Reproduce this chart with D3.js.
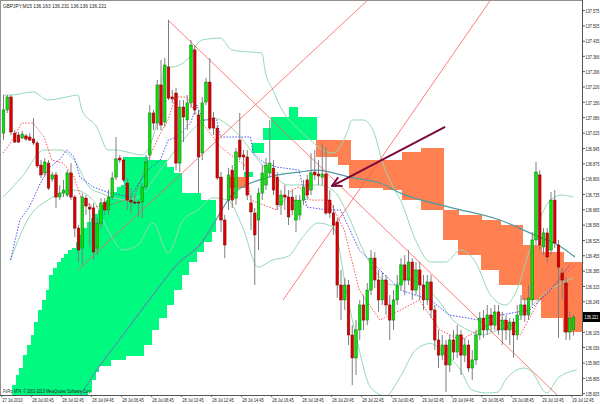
<!DOCTYPE html>
<html><head><meta charset="utf-8">
<script src="https://cdn.jsdelivr.net/npm/d3@7"></script>
<style>html,body{margin:0;padding:0;background:#fff;}svg{display:block;}</style>
</head><body>
<svg id="c" width="600" height="404"></svg>
<script>
const title = "GBPJPY,M15 136.163 136.231 136.136 136.221";
const copyright = "FxPro MT4, \u00A9 2001-2010 MetaQuotes Software Corp.";
const currentPrice = 136.221;
const timeLabels = ["27 Jul 2010","28 Jul 00:45","28 Jul 02:45","28 Jul 04:45","28 Jul 06:45","28 Jul 08:45","28 Jul 10:45","28 Jul 12:45","28 Jul 14:45","28 Jul 16:45","28 Jul 18:45","28 Jul 20:45","28 Jul 22:45","29 Jul 00:45","29 Jul 02:45","29 Jul 04:45","29 Jul 06:45","29 Jul 08:45","29 Jul 10:45","29 Jul 12:45"];
const priceLabels = ["137.575","137.505","137.435","137.366","137.296","137.226","137.156","137.086","137.015","136.945","136.875","136.806","136.735","136.665","136.595","136.525","136.455","136.385","136.315","136.245","136.175","136.105","136.036","135.965","135.895","135.825"];

const opens = [137.061,137.167,137.226,137.061,137.052,137.039,137.048,137.043,137.034,137.016,
136.915,136.879,136.924,136.851,136.870,136.769,136.787,136.778,136.879,136.769,
136.627,136.536,136.764,136.723,136.719,136.536,136.650,136.746,136.710,136.769,
136.860,136.947,136.938,136.833,136.755,136.746,136.746,136.746,136.815,136.961,
137.153,137.107,137.281,137.112,137.363,137.226,137.244,136.924,137.180,137.121,
137.199,137.441,137.144,136.970,137.203,137.294,137.130,137.084,136.860,136.664,
136.755,136.892,136.764,137.029,136.961,136.952,136.742,136.696,136.664,136.787,
136.824,136.879,136.901,136.860,136.733,136.778,136.769,136.769,136.664,136.687,
136.755,136.847,136.801,136.883,136.874,136.860,136.874,136.755,136.696,136.655,
136.367,136.299,136.367,136.139,136.034,136.162,136.276,136.207,136.344,136.490,
136.390,136.299,136.390,136.276,136.207,136.299,136.367,136.459,136.390,136.472,
136.344,136.436,136.367,136.299,136.381,136.253,136.116,136.047,136.093,136.002,
136.116,136.061,136.139,136.047,136.093,135.988,136.025,136.139,136.216,136.162,
136.230,136.184,136.244,136.162,136.207,136.162,136.198,136.139,136.230,136.276,
136.230,136.299,136.573,136.870,136.541,136.605,136.527,136.755,136.550,136.422,
136.376,136.152,136.163];
const highs = [137.235,137.235,137.235,137.075,137.066,137.071,137.057,137.061,137.130,137.025,
136.938,136.947,136.938,136.883,136.883,136.824,136.847,136.892,136.924,136.778,
136.641,136.787,136.778,136.742,136.742,136.673,136.764,136.764,136.801,136.883,
137.043,136.961,136.952,136.856,136.810,136.778,136.755,136.833,136.961,137.189,
137.167,137.304,137.395,137.404,137.578,137.258,137.267,137.212,137.212,137.235,
137.486,137.463,137.167,137.226,137.313,137.404,137.157,137.098,136.883,136.687,
136.901,136.915,136.993,137.153,136.984,136.984,136.778,136.719,136.810,136.915,
136.947,137.121,136.938,136.883,136.801,136.824,136.801,136.801,136.778,136.778,
136.847,136.870,136.970,136.984,136.938,137.016,136.998,136.801,136.733,136.673,
136.436,136.399,136.390,136.184,136.207,136.299,136.321,136.376,136.527,136.518,
136.436,136.426,136.413,136.321,136.344,136.413,136.490,136.504,136.527,136.490,
136.472,136.472,136.413,136.413,136.413,136.276,136.162,136.139,136.116,136.139,
136.162,136.184,136.162,136.125,136.116,136.070,136.162,136.244,136.253,136.276,
136.262,136.276,136.276,136.244,136.230,136.216,136.216,136.276,136.321,136.308,
136.367,136.609,136.929,136.892,136.627,136.627,136.792,136.801,136.573,136.445,
136.404,136.244,136.231];
const lows = [137.029,137.153,137.052,137.016,137.016,137.034,137.025,137.025,137.007,136.902,
136.856,136.865,136.801,136.838,136.719,136.755,136.769,136.769,136.755,136.586,
136.472,136.459,136.687,136.541,136.481,136.504,136.627,136.687,136.687,136.755,
136.847,136.924,136.838,136.710,136.696,136.733,136.678,136.673,136.801,136.938,
137.075,137.075,137.075,137.089,137.212,137.199,136.892,136.883,137.020,137.075,
137.176,137.144,136.787,136.938,137.189,137.075,137.052,136.847,136.609,136.490,
136.710,136.719,136.733,136.938,136.892,136.755,136.618,136.367,136.527,136.755,
136.801,136.856,136.778,136.710,136.687,136.710,136.641,136.687,136.609,136.664,
136.733,136.755,136.778,136.847,136.824,136.824,136.687,136.673,136.596,136.308,
136.207,136.253,136.093,135.910,135.956,136.116,136.162,136.184,136.321,136.353,
136.244,136.276,136.230,136.116,136.162,136.276,136.344,136.321,136.367,136.299,
136.321,136.299,136.253,136.276,136.216,136.070,135.988,136.025,135.878,135.970,
136.025,136.034,135.956,136.015,135.970,135.933,136.002,136.116,136.125,136.139,
136.152,136.162,136.139,136.093,136.116,136.093,136.034,136.116,136.207,136.198,
136.207,136.276,136.550,136.527,136.504,136.472,136.504,136.536,136.125,136.299,
136.116,136.116,136.136];
const closes = [137.167,137.226,137.066,137.020,137.020,137.057,137.034,137.029,137.016,136.911,
136.870,136.929,136.810,136.870,136.769,136.787,136.801,136.879,136.769,136.627,
136.527,136.769,136.728,136.714,136.518,136.650,136.742,136.710,136.769,136.856,
136.943,136.938,136.847,136.755,136.746,136.744,136.742,136.815,136.929,137.153,
137.107,137.281,137.098,137.372,137.221,137.217,136.924,137.180,137.135,137.199,
137.463,137.167,136.952,137.199,137.294,137.084,137.084,136.856,136.664,136.550,
136.870,136.755,136.975,136.952,136.952,136.778,136.701,136.596,136.787,136.879,
136.915,136.924,136.801,136.733,136.778,136.769,136.678,136.710,136.755,136.755,
136.815,136.778,136.879,136.870,136.865,136.874,136.696,136.696,136.641,136.367,
136.299,136.367,136.139,136.034,136.162,136.276,136.207,136.344,136.490,136.390,
136.299,136.390,136.276,136.207,136.299,136.367,136.459,136.390,136.472,136.344,
136.436,136.367,136.299,136.381,136.253,136.116,136.047,136.093,136.002,136.116,
136.061,136.139,136.047,136.093,135.988,136.025,136.139,136.216,136.162,136.230,
136.184,136.244,136.162,136.207,136.162,136.198,136.139,136.230,136.276,136.230,
136.308,136.573,136.883,136.550,136.605,136.495,136.755,136.559,136.449,136.390,
136.152,136.216,136.221];

// Ichimoku cloud runs: [fromBar, toBar, senkouA, senkouB]
const cloudRuns = [
[3,3,135.910,135.796],[4,4,135.956,135.796],[5,5,135.988,135.796],[6,6,136.047,135.796],
[7,7,136.093,135.796],[8,8,136.139,135.796],[9,9,136.198,135.796],[10,10,136.253,135.796],
[11,11,136.299,135.796],[12,12,136.344,135.796],[13,13,136.413,135.796],[14,14,136.445,135.796],
[15,15,136.472,135.796],[16,16,136.490,135.796],[17,17,136.509,135.796],[18,18,136.527,135.796],
[19,19,136.536,135.796],[20,20,136.564,135.796],[21,21,136.596,135.796],[22,22,136.627,135.796],
[23,23,136.655,135.878],[24,24,136.673,135.933],[25,25,136.691,135.970],[26,26,136.710,135.997],
[27,27,136.733,135.997],[28,28,136.755,135.997],[29,29,136.769,136.025],[30,30,136.792,136.025],
[31,31,136.815,136.025],[32,32,136.824,136.025],[33,37,136.952,136.043],[38,38,136.952,136.093],
[39,39,136.938,136.093],[40,41,136.938,136.162],[42,43,136.938,136.216],[44,45,136.906,136.276],
[46,47,136.879,136.344],[48,49,136.787,136.413],[50,51,136.787,136.472],[52,52,136.787,136.518],
[53,53,136.755,136.518],[54,55,136.755,136.564],[56,56,136.755,136.609],
[61,64,136.810,136.860],
[65,66,136.883,136.860],[67,69,137.016,136.970],[70,71,137.084,137.029],[72,76,137.135,137.029],
[77,78,137.180,137.029],[79,83,137.135,137.029],
[84,89,136.952,137.029],[90,92,136.915,137.029],[93,101,136.810,136.938],[102,106,136.801,136.938],
[107,111,136.755,136.975],[112,117,136.710,136.993],[118,121,136.573,136.710],[122,127,136.504,136.687],
[128,132,136.436,136.664],[133,138,136.367,136.641],[139,143,136.299,136.550],[144,149,136.216,136.518],
[150,154,136.152,136.472]];

// indicator lines: [bar, price]
const bbUpper = [[0,137.235],[2,137.235],[8,137.249],[12,137.212],[17,137.226],[20,137.235],[21,137.167],[25,137.089],[28,136.984],[30,136.984],[33,136.975],[37,136.961],[40,137.043],[42,137.226],[43,137.363],[45,137.363],[49,137.395],[53,137.486],[58,137.495],[61,137.441],[66,137.431],[69,137.427],[70,137.336],[72,137.258],[74,137.180],[79,137.075],[82,137.029],[84,136.998],[88,136.970],[92,137.075],[93,137.121],[96,137.121],[99,137.061],[101,136.938],[104,136.815],[106,136.755],[110,136.573],[114,136.472],[118,136.472],[122,136.527],[126,136.472],[130,136.321],[134,136.276],[137,136.344],[140,136.504],[143,136.664],[146,136.755],[149,136.778],[152,136.769]];
const bbMiddle = [[0,136.769],[5,136.860],[11,136.984],[15,136.984],[19,136.938],[23,136.815],[26,136.787],[29,136.769],[33,136.755],[37,136.778],[40,136.847],[44,136.938],[48,137.029],[52,137.098],[56,137.130],[60,137.098],[64,137.029],[68,136.938],[72,136.870],[76,136.824],[80,136.824],[84,136.824],[88,136.801],[92,136.687],[96,136.527],[100,136.413],[104,136.367],[108,136.390],[112,136.367],[116,136.299],[120,136.207],[124,136.162],[128,136.139],[132,136.162],[136,136.184],[140,136.253],[144,136.321],[148,136.367],[152,136.399]];
const bbLower = [[2,136.481],[7,136.678],[12,136.755],[19,136.801],[24,136.755],[28,136.618],[32,136.527],[36,136.550],[40,136.651],[44,136.513],[48,136.663],[52,136.710],[56,136.765],[60,136.755],[64,136.627],[68,136.449],[72,136.482],[76,136.498],[80,136.588],[84,136.650],[88,136.632],[92,136.299],[95,136.070],[98,135.900],[102,135.860],[106,135.950],[110,136.070],[114,136.100],[118,136.050],[122,135.979],[125,135.888],[129,135.874],[132,135.878],[134,135.933],[139,135.988],[141,135.970],[145,135.874],[148,135.942],[153,135.979]];
const maSlow = [[19.2,135.823],[25,135.979],[31,136.116],[39,136.299],[47,136.472],[52.5,136.550],[56.5,136.655],[61,136.778],[70,136.856],[79,136.883],[84,136.892],[88,136.879],[92.5,136.860],[100.5,136.833],[106,136.787],[119,136.723],[132.5,136.664],[143,136.586],[148,136.550],[152.5,136.495]];
const tenkan = [[0,136.970],[2,137.016],[5,137.107],[8,137.107],[11,137.043],[13,136.938],[16,136.924],[19,136.860],[21,136.755],[24,136.723],[28.5,136.733],[35,136.769],[39,136.952],[42,137.061],[44,137.121],[46,137.226],[49,137.226],[52.5,137.121],[58,136.998],[65,136.906],[66,136.755],[73,136.710],[77,136.801],[79,136.815],[82,136.755],[87,136.755],[91,136.618],[95,136.344],[100.5,136.207],[106,136.253],[111,136.299],[116.5,136.162],[122,136.116],[127,136.162],[132.5,136.207],[138,136.139],[143,136.299],[148.5,136.390],[152.5,136.459]];
const kijun = [[2,136.481],[4.5,136.664],[7,136.723],[10,136.833],[12.5,136.906],[15,136.938],[17,136.984],[19,136.952],[20.5,136.860],[24,136.815],[28.5,136.787],[34,136.769],[38.5,136.892],[42,136.938],[44,137.029],[46.5,137.043],[50,137.107],[51.7,137.189],[53.3,137.121],[57,137.121],[58,137.043],[66,137.043],[66.7,136.970],[69.3,136.929],[73,136.906],[79,136.892],[81,136.723],[86.4,136.710],[90,136.710],[95,136.527],[100.5,136.436],[106,136.344],[114,136.299],[119,136.230],[127,136.207],[132.5,136.230],[140.5,136.253],[146,136.344],[151.2,136.459]];
const trendLines = [[[44,137.578],[148.6,135.851]],[[20,136.436],[97.3,137.669]],[[74.7,136.299],[130,137.669]]];
const arrowLine = [[117.9,137.089],[87.7,136.819]];

const svg = d3.select("#c");
const W = 600, H = 404, plotR = 582, plotB = 395;
const x = d3.scaleLinear().domain([0, 1]).range([3, 6.75]);
const y = d3.scaleLinear().domain([136.221, 137.669]).range([317, 0]);
const step = x(1) - x(0);

svg.append("rect").attr("width", W).attr("height", H).attr("fill", "#fff");
const defs = svg.append("defs");
defs.append("clipPath").attr("id", "plot").append("rect").attr("x", 0).attr("y", 0).attr("width", plotR).attr("height", plotB);
defs.append("marker").attr("id", "ah").attr("viewBox", "0 0 10 10").attr("refX", 9).attr("refY", 5)
  .attr("markerWidth", 6).attr("markerHeight", 6).attr("orient", "auto")
  .append("path").attr("d", "M1,1 L9,5 L1,9").attr("fill", "none").attr("stroke", "#7a0a3c").attr("stroke-width", 1.6);

const g = svg.append("g").attr("clip-path", "url(#plot)");

// cloud
const cells = [];
cloudRuns.forEach(r => { for (let b = r[0]; b <= r[1]; b++) cells.push({b, a: r[2], s: r[3]}); });
g.append("g").attr("shape-rendering", "crispEdges").selectAll("rect").data(cells).join("rect")
  .attr("x", d => Math.floor(x(d.b) - step / 2)).attr("width", Math.ceil(step) + 1)
  .attr("y", d => y(Math.max(d.a, d.s))).attr("height", d => Math.abs(y(d.a) - y(d.s)))
  .attr("fill", d => d.a >= d.s ? "#00fa80" : "#ff8050");

const line = d3.line().x(d => x(d[0])).y(d => y(d[1]));
const lineS = d3.line().x(d => x(d[0])).y(d => y(d[1])).curve(d3.curveMonotoneX);
[bbUpper, bbMiddle, bbLower].forEach(s => g.append("path").attr("d", lineS(s)).attr("fill", "none").attr("stroke", "#94d8b6").attr("stroke-width", 1));
g.append("path").attr("d", lineS(maSlow)).attr("fill", "none").attr("stroke", "#4f9aa3").attr("stroke-width", 1.2);
g.append("path").attr("d", line(tenkan)).attr("fill", "none").attr("stroke", "#ff3b3b").attr("stroke-width", 0.9).attr("stroke-dasharray", "1.5,1.5");
g.append("path").attr("d", line(kijun)).attr("fill", "none").attr("stroke", "#3b3bff").attr("stroke-width", 0.9).attr("stroke-dasharray", "1.5,1.5");
trendLines.forEach(t => g.append("path").attr("d", line(t)).attr("fill", "none").attr("stroke", "#ff5a5a").attr("stroke-width", 0.8));

// candles
const idx = d3.range(opens.length);
const cg = g.append("g");
cg.selectAll("line").data(idx).join("line")
  .attr("x1", i => x(i) + 0.5).attr("x2", i => x(i) + 0.5)
  .attr("y1", i => y(highs[i])).attr("y2", i => y(lows[i]))
  .attr("stroke", "#7f7f7f").attr("stroke-width", 1);
cg.selectAll("rect").data(idx).join("rect")
  .attr("x", i => x(i) - 0.8).attr("width", 2.6)
  .attr("y", i => y(Math.max(opens[i], closes[i])))
  .attr("height", i => Math.max(1, Math.abs(y(opens[i]) - y(closes[i]))))
  .attr("fill", i => closes[i] >= opens[i] ? "#00e800" : "#dd0000")
  .attr("stroke", i => closes[i] >= opens[i] ? "#1a6a1a" : "#7a0000").attr("stroke-width", 0.5);

// arrow
g.append("path").attr("d", line(arrowLine)).attr("fill", "none").attr("stroke", "#7a0a3c").attr("stroke-width", 2).attr("marker-end", "url(#ah)");

// frame and axes
svg.append("line").attr("x1", 0).attr("x2", plotR).attr("y1", 0.5).attr("y2", 0.5).attr("stroke", "#909090");
svg.append("line").attr("x1", 0.5).attr("x2", 0.5).attr("y1", 0).attr("y2", plotB).attr("stroke", "#909090");
svg.append("line").attr("x1", plotR + 0.5).attr("x2", plotR + 0.5).attr("y1", 0).attr("y2", plotB + 0.5).attr("stroke", "#555");
svg.append("line").attr("x1", 0).attr("x2", plotR + 0.5).attr("y1", plotB + 0.5).attr("y2", plotB + 0.5).attr("stroke", "#555");

const font = "Liberation Sans, Arial, sans-serif";
// narrow small text via horizontal scale
function smallText(tx, ty, s, sx, fill) {
  return svg.append("text").attr("transform", `translate(${tx},${ty}) scale(${sx},1)`).text(s)
    .attr("font-family", font).attr("font-size", 6).attr("fill", fill || "#222");
}
// price axis
const boxY = y(currentPrice);
priceLabels.forEach(s => {
  const v = +s, ly = y(v) - 10;
  if (Math.abs(ly - boxY) < 7) return;
  svg.append("line").attr("x1", plotR).attr("x2", plotR + 3).attr("y1", ly).attr("y2", ly).attr("stroke", "#555");
  smallText(plotR + 3.5, ly + 2.2, s, 0.64);
});
svg.append("rect").attr("x", plotR + 1).attr("y", boxY - 5).attr("width", 17).attr("height", 10).attr("fill", "#000");
smallText(plotR + 2.5, boxY + 2.2, currentPrice.toFixed(3), 0.64, "#fff");

// time axis
timeLabels.forEach((s, k) => {
  const bx = x(k * 8) - 1.3;
  svg.append("line").attr("x1", bx).attr("x2", bx).attr("y1", plotB).attr("y2", plotB + 2).attr("stroke", "#555");
  smallText(Math.min(bx + 0.5, 577), 402, s, 0.66);
});

smallText(3, 8, title, 0.8);
smallText(3, 393, copyright, 0.62);
</script>
</body></html>
